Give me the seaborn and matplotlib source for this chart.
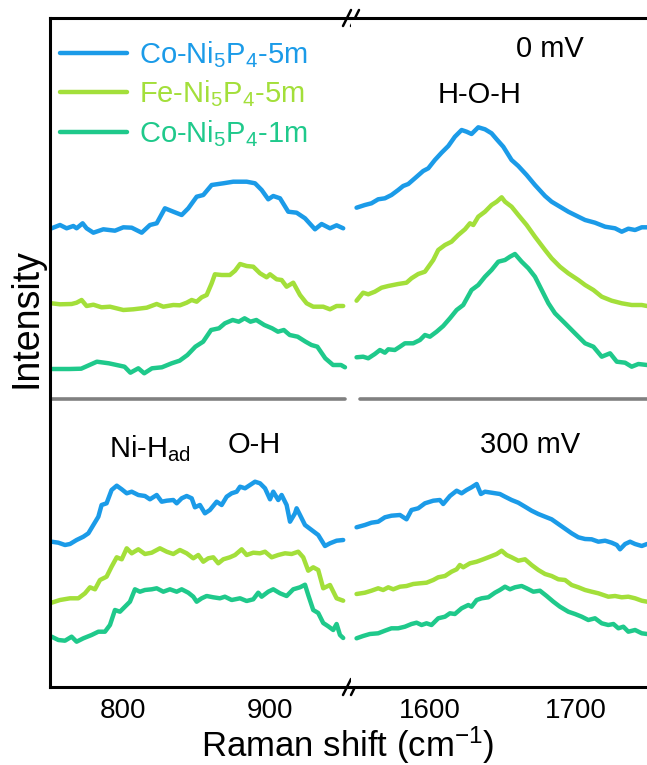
import pandas as pd
import matplotlib.pyplot as plt
import seaborn as sns

# Sample names and line colours
samples = ["Co-Ni$_5$P$_4$-5m", "Fe-Ni$_5$P$_4$-5m", "Co-Ni$_5$P$_4$-1m"]
colors = ["#1b9be8", "#a3df3a", "#1fc98b"]

# ---- 0 mV, low-wavenumber window ----
co5_0mv_low_x = [751.1, 756.8, 761.3, 765.9, 768.1, 772.2, 774.9, 779.5, 786.3, 794.2, 799.9, 805.6, 812.4, 818.0,
                 822.6, 828.2, 833.9, 839.6, 844.1, 849.8, 854.3, 860.0, 867.9, 874.7, 883.8, 889.5, 894.0, 898.5,
                 901.9, 906.5, 912.1, 917.8, 923.5, 930.3, 934.8, 940.5, 945.0, 949.5]
co5_0mv_low_y = [458.7, 462, 458.7, 461, 458.7, 463.7, 458.7, 454.3, 457.7, 456.3, 459.7, 459.3, 454.3, 462,
                 463.7, 478.7, 475.3, 472, 478.7, 490.3, 492, 502, 503.7, 505.3, 505.3, 503.7, 497, 487.7,
                 491, 488.7, 475.3, 474.3, 468.7, 457.7, 463, 458.7, 461.7, 458.7]

fe5_0mv_low_x = [751.1, 756.8, 764.7, 768.1, 771.5, 774.9, 779.5, 785.1, 790.8, 799.9, 806.7, 815.8, 822.6, 827.1,
                 833.9, 838.4, 843.0, 846.4, 849.8, 853.2, 856.6, 860.0, 862.2, 866.8, 872.4, 875.9, 879.3, 883.8,
                 888.3, 892.9, 897.4, 899.7, 904.2, 907.6, 911.0, 915.5, 920.1, 924.6, 929.1, 935.9, 940.5, 945.0,
                 949.5]
fe5_0mv_low_y = [383.7, 382.7, 383, 384.3, 387, 381, 382.3, 379.7, 380.3, 377, 377.7, 379.3, 383, 380.3,
                 382, 381.7, 384.3, 387, 385.3, 389.7, 392, 403.7, 412.7, 412, 412, 416.3, 423, 421,
                 420.3, 413.7, 409.7, 412.7, 407.7, 407, 400.3, 404.3, 392, 383.7, 380.3, 380.3, 377.7, 381,
                 381]

co1_0mv_low_x = [751.1, 763.2, 771.2, 781.9, 790.0, 800.7, 804.7, 810.1, 814.1, 819.4, 826.1, 832.8, 838.2, 843.5,
                 848.9, 854.2, 859.6, 865.0, 869.0, 874.3, 878.4, 882.4, 886.4, 890.4, 895.8, 901.1, 905.1, 909.1,
                 913.1, 918.5, 923.9, 927.9, 931.9, 937.3, 942.6, 948.0, 950.7]
co1_0mv_low_y = [318, 318, 318.3, 325.3, 323.7, 320.3, 314.3, 318.7, 313.7, 318.7, 319.7, 323.7, 326.3, 332,
                 340.3, 345.3, 357, 358.7, 363.7, 367, 365.3, 368.7, 365.3, 367, 362, 358.7, 355.3, 357,
                 352, 350.3, 345.3, 342, 340.3, 328.7, 322, 322, 319.7]

# ---- 0 mV, high-wavenumber window ----
co5_0mv_high_x = [1549.8, 1555.5, 1560.0, 1564.6, 1569.2, 1573.7, 1578.3, 1581.7, 1585.2, 1589.7, 1595.4, 1598.9,
                  1603.4, 1608.0, 1612.6, 1617.1, 1621.7, 1625.1, 1628.5, 1633.1, 1637.7, 1642.2, 1645.7, 1650.2,
                  1655.9, 1660.5, 1666.2, 1671.9, 1678.8, 1683.3, 1689.0, 1694.7, 1701.6, 1706.2, 1713.0, 1719.9,
                  1726.7, 1731.3, 1735.8, 1740.4, 1745.0, 1748.6]
co5_0mv_high_y = [479.3, 482, 483.7, 487.7, 488.7, 492, 497, 501, 503, 508.7, 516, 518.7,
                  527, 534.3, 541, 550.3, 557, 555.3, 553, 559.7, 557.7, 553.7, 547.7, 540.3,
                  527, 521, 512, 502, 491, 485.3, 480.3, 475.3, 470.3, 467, 464.3, 460.3,
                  458.7, 455.3, 458.3, 457, 459.7, 459.7]

fe5_0mv_high_x = [1549.8, 1554.3, 1557.8, 1562.3, 1566.9, 1571.5, 1578.3, 1584.0, 1587.4, 1592.0, 1596.6, 1602.3,
                  1605.7, 1610.3, 1614.8, 1619.4, 1624.0, 1627.4, 1629.7, 1633.1, 1637.7, 1642.2, 1645.7, 1649.1,
                  1651.4, 1655.9, 1660.5, 1666.2, 1671.9, 1678.8, 1683.3, 1689.0, 1694.7, 1701.6, 1706.2, 1711.9,
                  1717.6, 1724.4, 1731.3, 1738.1, 1745.0, 1748.6]
fe5_0mv_high_y = [386.3, 394.3, 392.7, 395.3, 399.3, 401, 403, 404.3, 408.7, 413, 415.3, 427,
                  437, 442, 445.3, 452, 457.7, 463.7, 462, 470.3, 475.3, 482, 485.3, 489.7,
                  485.3, 480.3, 472, 462, 450.3, 437, 428.7, 420.3, 413.7, 407, 402, 397,
                  390.3, 386.3, 383.7, 382, 382, 381]

co1_0mv_high_x = [1549.8, 1554.3, 1557.8, 1562.3, 1565.8, 1569.2, 1571.5, 1576.0, 1579.5, 1582.9, 1588.6, 1593.2,
                  1596.6, 1600.0, 1604.6, 1609.1, 1613.7, 1618.3, 1622.8, 1628.5, 1633.1, 1637.7, 1642.2, 1646.8,
                  1651.4, 1654.8, 1658.2, 1662.8, 1667.4, 1671.9, 1676.5, 1681.1, 1685.6, 1692.5, 1699.3, 1706.2,
                  1711.9, 1717.6, 1723.3, 1727.9, 1733.6, 1738.1, 1742.7, 1748.6]
co1_0mv_high_y = [329.7, 330.3, 328.7, 333, 337, 334.3, 337.7, 337, 340.3, 343.7, 343.7, 347,
                  352, 350.3, 355.3, 361, 368.7, 377, 382, 397, 402, 410.3, 417, 425.3,
                  427, 430.3, 433, 425.3, 418.7, 410.3, 397, 383.7, 373.7, 363.7, 353.7, 343.7,
                  340.3, 330.3, 333.7, 325.3, 324.3, 320.3, 323, 322]

# ---- 300 mV, low-wavenumber window ----
co5_300mv_low_x = [751.1, 755.7, 760.2, 763.6, 768.1, 772.7, 776.1, 779.5, 782.9, 785.1, 788.5, 791.9, 795.4, 798.8,
                   802.2, 805.6, 810.1, 814.6, 818.0, 822.6, 826.0, 829.4, 833.9, 836.2, 839.6, 843.0, 846.4, 848.6,
                   852.0, 855.4, 858.8, 863.4, 866.8, 870.2, 873.6, 877.0, 879.3, 882.7, 886.1, 889.5, 892.9, 896.3,
                   899.7, 901.9, 905.3, 907.6, 911.0, 913.3, 916.7, 917.8, 920.1, 923.5, 928.0, 932.5, 937.1, 940.5,
                   945.0, 949.5]
co5_300mv_low_y = [145.3, 144.3, 142, 143, 147, 150.3, 153.7, 162, 170.3, 182, 183.7, 197, 201.3, 197.7,
                   193.7, 195.3, 192, 191, 187.7, 192, 185.3, 186.3, 187, 183.7, 188.7, 191, 188.7, 179.7,
                   182, 173.7, 177, 185.3, 182, 190.3, 193.7, 195.3, 200.3, 198.7, 202, 205.3, 203.7, 198.7,
                   187.7, 195.3, 187, 192, 182, 165.3, 173.7, 178.7, 172, 162, 157, 152, 141, 143.7,
                   146.3, 147]

fe5_300mv_low_x = [751.1, 756.8, 763.6, 769.3, 773.8, 777.2, 780.6, 784.0, 788.5, 791.9, 795.4, 798.8, 802.2, 805.6,
                   810.1, 814.6, 819.2, 824.8, 829.4, 833.9, 838.4, 843.0, 847.5, 850.9, 854.3, 857.7, 861.1, 864.5,
                   867.9, 872.4, 875.9, 880.4, 883.8, 888.3, 892.9, 896.3, 900.8, 905.3, 909.9, 914.4, 918.9, 922.3,
                   925.7, 929.1, 932.5, 935.9, 940.5, 945.0, 949.5]
fe5_300mv_low_y = [84.3, 87, 88.7, 88.7, 93.7, 99.7, 97.7, 107, 110.3, 120.3, 129.7, 127.7, 138.7, 133.7,
                   137.7, 133, 134.3, 138.7, 135.3, 133, 137, 133.7, 128.7, 132, 125.3, 128.7, 129.7, 123.7,
                   127.7, 129.7, 132, 137.7, 132, 134.3, 133.7, 135.3, 129.7, 132, 133.7, 133, 135.3, 129.7,
                   116.3, 119.7, 117, 98.7, 102, 88.7, 86.3]

co1_300mv_low_x = [751.1, 755.7, 760.2, 764.7, 768.1, 772.7, 778.3, 782.9, 787.4, 790.8, 794.2, 797.6, 801.0, 804.4,
                   807.8, 811.2, 814.6, 819.2, 822.6, 827.1, 831.6, 836.2, 839.6, 844.1, 847.5, 849.8, 853.2, 856.6,
                   861.1, 865.6, 869.0, 873.6, 879.3, 883.8, 888.3, 891.7, 894.0, 898.5, 901.9, 906.5, 911.0, 915.5,
                   920.1, 923.5, 925.7, 929.1, 932.5, 935.9, 939.3, 942.7, 945.0, 947.3, 949.5]
co1_300mv_low_y = [50.3, 47, 46.3, 50.3, 45.3, 48.7, 52, 55.3, 55.3, 62, 77, 75.3, 80.3, 85.3,
                   97.7, 95.3, 97, 97.7, 98.7, 95.3, 97.7, 95.3, 97.7, 94.3, 90.3, 85.3, 88.7, 91,
                   89.7, 88.7, 90.3, 87, 88.7, 86, 87.7, 94.3, 90.3, 95.3, 97.7, 93.7, 91, 97.7,
                   99.7, 102.3, 92, 77, 74, 64, 60.7, 57, 63, 52, 49]

# ---- 300 mV, high-wavenumber window ----
co5_300mv_high_x = [1549.8, 1555.5, 1560.0, 1564.6, 1569.2, 1573.7, 1579.5, 1584.0, 1587.4, 1592.0, 1596.6, 1602.3,
                    1606.8, 1609.1, 1613.7, 1618.3, 1621.7, 1625.1, 1628.5, 1632.0, 1634.9, 1637.7, 1642.2, 1647.9,
                    1651.4, 1655.9, 1660.5, 1665.1, 1669.6, 1674.2, 1678.8, 1683.3, 1687.9, 1692.5, 1697.0, 1701.6,
                    1706.2, 1710.7, 1715.3, 1719.9, 1724.4, 1727.9, 1730.1, 1733.6, 1737.0, 1740.4, 1745.0, 1748.6]
co5_300mv_high_y = [159.7, 162, 164.3, 165.3, 169.7, 171.3, 172, 167.7, 177, 178.7, 183.7, 186.3,
                    187, 183, 191, 196.3, 193.7, 197, 199.7, 203, 193, 195.3, 194.3, 193,
                    190.3, 187, 184.3, 180.3, 176.3, 173, 170.3, 167.7, 163, 158.3, 153.7, 149.7,
                    148, 147.7, 145.3, 146.3, 144.3, 142, 137.7, 143, 145.3, 143, 141, 143]

fe5_300mv_high_x = [1549.8, 1555.5, 1560.0, 1564.6, 1568.0, 1571.5, 1574.9, 1579.5, 1584.0, 1588.6, 1593.2, 1597.7,
                    1602.3, 1605.7, 1610.3, 1614.8, 1618.3, 1620.5, 1622.8, 1627.4, 1632.0, 1636.5, 1641.1, 1645.7,
                    1649.1, 1652.5, 1655.9, 1660.5, 1665.1, 1669.6, 1674.2, 1678.8, 1683.3, 1687.9, 1692.5, 1697.0,
                    1701.6, 1706.2, 1710.7, 1715.3, 1718.7, 1722.1, 1726.7, 1731.3, 1735.8, 1740.4, 1745.0, 1748.6]
fe5_300mv_high_y = [93, 94.3, 96.3, 98.7, 97, 99.7, 97.7, 100.3, 101, 103, 103.7, 104.3,
                    107, 109.7, 111, 115.3, 117.7, 122, 119.7, 123.7, 125.3, 127.7, 130.3, 133,
                    136.3, 132, 129.7, 126.3, 127.7, 122, 117, 113, 111, 107.7, 107, 102,
                    99.7, 97, 95.3, 93.7, 92, 90.3, 91, 89.7, 90.3, 88.7, 86.3, 85.3]

co1_300mv_high_x = [1549.8, 1554.3, 1558.9, 1564.6, 1569.2, 1573.7, 1578.3, 1582.9, 1587.4, 1590.9, 1594.3, 1597.7,
                    1601.1, 1605.7, 1610.3, 1613.7, 1617.1, 1621.7, 1626.3, 1628.5, 1632.0, 1635.4, 1640.0, 1644.5,
                    1647.9, 1651.4, 1654.8, 1658.2, 1662.8, 1666.2, 1670.8, 1675.3, 1679.9, 1684.5, 1689.0, 1694.7,
                    1699.3, 1703.9, 1708.4, 1713.0, 1717.6, 1722.1, 1725.6, 1729.0, 1732.4, 1735.8, 1740.4, 1745.0,
                    1748.6]
co1_300mv_high_y = [48.7, 51, 53, 53.7, 56.3, 58.7, 58.7, 60.3, 63, 64.3, 62, 63.7,
                    62, 68.7, 70.3, 73.7, 73, 78.7, 82, 80.3, 87, 88.7, 89.7, 94.3,
                    97, 100.3, 97.7, 99.7, 101, 98.7, 95.3, 96.3, 91, 85.3, 80.3, 75.3,
                    73, 70.3, 67, 68.7, 63.7, 62, 63, 58.7, 60.3, 55.3, 57, 53.7,
                    53]

divider_level = 288

# Build long table: one row per point
curves = [
    (samples[0], "0 mV", "low", co5_0mv_low_x, co5_0mv_low_y),
    (samples[1], "0 mV", "low", fe5_0mv_low_x, fe5_0mv_low_y),
    (samples[2], "0 mV", "low", co1_0mv_low_x, co1_0mv_low_y),
    (samples[0], "0 mV", "high", co5_0mv_high_x, co5_0mv_high_y),
    (samples[1], "0 mV", "high", fe5_0mv_high_x, fe5_0mv_high_y),
    (samples[2], "0 mV", "high", co1_0mv_high_x, co1_0mv_high_y),
    (samples[0], "300 mV", "low", co5_300mv_low_x, co5_300mv_low_y),
    (samples[1], "300 mV", "low", fe5_300mv_low_x, fe5_300mv_low_y),
    (samples[2], "300 mV", "low", co1_300mv_low_x, co1_300mv_low_y),
    (samples[0], "300 mV", "high", co5_300mv_high_x, co5_300mv_high_y),
    (samples[1], "300 mV", "high", fe5_300mv_high_x, fe5_300mv_high_y),
    (samples[2], "300 mV", "high", co1_300mv_high_x, co1_300mv_high_y),
]
frames = []
for name, pot, window, xs, ys in curves:
    frames.append(pd.DataFrame({"Shift": xs, "Intensity": ys, "Sample": name,
                                "Potential": pot, "Window": window}))
df = pd.concat(frames, ignore_index=True)

# Style
sns.set_theme(style="white")
plt.rcParams["font.family"] = ["Liberation Sans", "DejaVu Sans"]
plt.rcParams["mathtext.fontset"] = "custom"
plt.rcParams["mathtext.rm"] = "Liberation Sans"
plt.rcParams["mathtext.it"] = "Liberation Sans"
plt.rcParams["mathtext.default"] = "regular"
plt.rcParams["text.color"] = "black"
plt.rcParams["xtick.color"] = "black"
plt.rcParams["xtick.labelcolor"] = "black"

W, H = 647, 765
fig = plt.figure(figsize=(W / 100, H / 100), dpi=100)
ax1 = fig.add_axes([50 / W, 1 - 687 / H, 301 / W, 669 / H])
ax2 = fig.add_axes([351 / W, 1 - 687 / H, 301 / W, 669 / H])

palette = dict(zip(samples, colors))
for ax, window in [(ax1, "low"), (ax2, "high")]:
    sns.lineplot(data=df[df["Window"] == window], x="Shift", y="Intensity", hue="Sample",
                 hue_order=samples, units="Potential", estimator=None, sort=False,
                 palette=palette, lw=3.2, ax=ax, legend=(window == "low"))
    ax.set_ylim(0, 669)
    ax.set_yticks([])
    ax.set_xlabel("")
    ax.set_ylabel("")
    for s in ax.spines.values():
        s.set_linewidth(2.2)
        s.set_color("black")
    ax.tick_params(axis="x", which="both", direction="in", width=2, labelsize=20, pad=8,
                   colors="black")
    ax.tick_params(axis="x", which="major", length=8)
    ax.tick_params(axis="x", which="minor", length=5)

ax1.set_xlim(750, 954.8)
ax1.set_xticks([800, 900])
ax1.set_xticks([850], minor=True)
ax1.spines["right"].set_visible(False)
ax1.axhline(divider_level, xmin=0, xmax=0.98, color="#808080", lw=2.6)

ax2.set_xlim(1546, 1752)
ax2.set_xticks([1600, 1700])
ax2.set_xticks([1650], minor=True)
ax2.spines["left"].set_visible(False)
ax2.axhline(divider_level, xmin=0.03, xmax=1, color="#808080", lw=2.6)

# Legend with coloured text
leg = ax1.legend(loc="upper left", bbox_to_anchor=(-0.025, 0.995), frameon=False, fontsize=21,
                 handlelength=2.3, handletextpad=0.4, labelspacing=0.3, borderaxespad=0.2)
for line, text in zip(leg.get_lines(), leg.get_texts()):
    line.set_linewidth(3.2)
    text.set_color(line.get_color())

# Axis labels
fig.text(26 / W, 1 - 318 / H, "Intensity", rotation=90, ha="center", va="center", fontsize=27)
fig.text(348 / W, 1 - 745 / H, "Raman shift (cm$^{-1}$)", ha="center", va="center", fontsize=25)

# Annotations
fig.text(550 / W, 1 - 49 / H, "0 mV", ha="center", va="center", fontsize=21)
fig.text(480 / W, 1 - 95 / H, "H-O-H", ha="center", va="center", fontsize=21)
fig.text(150 / W, 1 - 449 / H, "Ni-H$_{ad}$", ha="center", va="center", fontsize=21)
fig.text(254 / W, 1 - 445 / H, "O-H", ha="center", va="center", fontsize=21)
fig.text(530 / W, 1 - 445 / H, "300 mV", ha="center", va="center", fontsize=21)

# Axis break marks
for yb in (18, 687):
    for dx in (-4, 4):
        ax1.plot([(351 + dx - 4) / W, (351 + dx + 4) / W], [1 - (yb + 8) / H, 1 - (yb - 8) / H],
                 transform=fig.transFigure, color="black", lw=1.8, clip_on=False)

fig.savefig("out.png", dpi=100)
